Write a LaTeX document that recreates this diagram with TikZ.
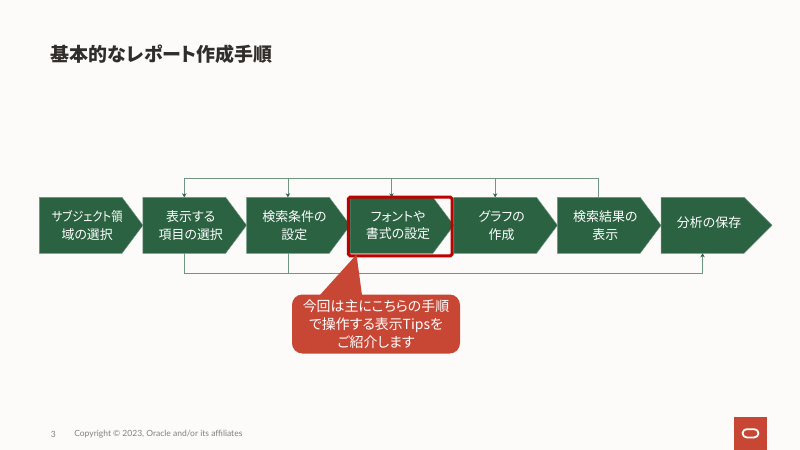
\documentclass[tikz,border=0pt]{standalone}
\usepackage{fontspec}
\setmainfont[RawFeature=+palt]{Noto Sans CJK JP}
\newfontfamily\footfont{Lato}
\usetikzlibrary{arrows.meta,positioning,shapes.symbols}
\definecolor{paper}{HTML}{FCFBFA}
\definecolor{boxgreen}{HTML}{2B6242}
\definecolor{linegreen}{HTML}{6E9681}
\definecolor{oraclered}{HTML}{C74634}
\definecolor{markred}{HTML}{C00000}
\definecolor{inkdark}{HTML}{312D2A}

\begin{document}
\begin{tikzpicture}[
  x=0.25mm,y=-0.25mm,
  stagebox/.style={signal,signal to=east,signal pointer angle=106.5,draw=linegreen,line width=0.3pt,
    fill=boxgreen,text=white,font=\fontsize{9.2pt}{11.4pt}\selectfont,align=center,
    text width=20.68mm,minimum width=25.75mm,minimum height=14mm,inner sep=0pt,outer sep=0pt,
    execute at begin node={\vspace*{1.2mm}\leftskip=3.25mm plus 1fil\rightskip=0pt plus 1fil}},
  rail/.style={linegreen,line width=0.5pt},
  flow/.style={rail,-{Stealth[length=1mm,width=1.1mm,color=boxgreen]}}
]
  \fill[paper] (0,0) rectangle (800,450);
  \node[font=\fontsize{13.5pt}{16pt}\selectfont\bfseries,text=inkdark,anchor=west,inner sep=0pt] (title) at (50.5,54.5) {基本的なレポート作成手順};

  \node[stagebox,anchor=west] (subject) at (39.3,225.3) {\makebox[0pt]{\scalebox{0.87}[1]{サブジェクト領}}\\[-2.1pt]域の選択};
  \node[stagebox,right=0pt of subject] (items) {表示する\\[-2.1pt]項目の選択};
  \node[stagebox,right=0pt of items] (filter) {検索条件の\\[-2.1pt]設定};
  \node[stagebox,right=0pt of filter] (format) {フォントや\\[-2.1pt]書式の設定};
  \node[stagebox,right=0pt of format] (graph) {グラフの\\[-2.1pt]作成};
  \node[stagebox,right=0pt of graph] (result) {検索結果の\\[-2.1pt]表示};
  \node[stagebox,signal pointer angle=90,text width=20.75mm,right=0pt of result] (save) {分析の保存};

  \coordinate (railtop) at (0,178.5);
  \coordinate (railbot) at (0,273.3);
  \draw[rail] (result.north) |- (railtop -| items.north);
  \draw[flow] (railtop -| items.north) -- (items.north);
  \draw[flow] (railtop -| filter.north) -- (filter.north);
  \draw[flow] (railtop -| format.north) -- (format.north);
  \draw[flow] (railtop -| graph.north) -- (graph.north);
  \draw[rail] (items.south) |- (railbot -| save.south);
  \draw[rail] (filter.south) -- (railbot -| filter.south);
  \draw[flow] (railbot -| save.south) -- (save.south);

  \node[draw=markred,line width=0.75mm,rounded corners=0.4mm,minimum width=25.9mm,minimum height=14.65mm,inner sep=0pt] (mark) at (400.25,226.5) {};

  \node[fill=oraclered,text=white,rounded corners=2.6mm,font=\fontsize{9.9pt}{12.8pt}\selectfont,align=center,
    minimum width=42mm,minimum height=14.75mm,inner sep=0pt] (tips) at (376,324) {今回は主にこちらの手順\\で操作する表示Tipsを\\ご紹介します};
  \coordinate (tipend) at (356.5,254.5);
  \fill[oraclered] (tipend) -- (362,295) -- (320,295) -- cycle;

  \node[font=\footfont\fontsize{6.05pt}{7pt}\selectfont,text=gray,anchor=west,inner sep=0pt] (page) at (50.5,434.5) {3};
  \node[font=\footfont\fontsize{6.05pt}{7pt}\selectfont,text=gray,anchor=west,inner sep=0pt] (copy) at (74,434.5) {Copyright © 2023, Oracle and/or its affiliates};
  \fill[oraclered] (734,417) rectangle (767,450);
  \node[draw=white,line width=0.45mm,rounded corners=1mm,minimum width=3.95mm,minimum height=2.05mm,inner sep=0pt] (logo) at (750.5,433.3) {};
\end{tikzpicture}
\end{document}
